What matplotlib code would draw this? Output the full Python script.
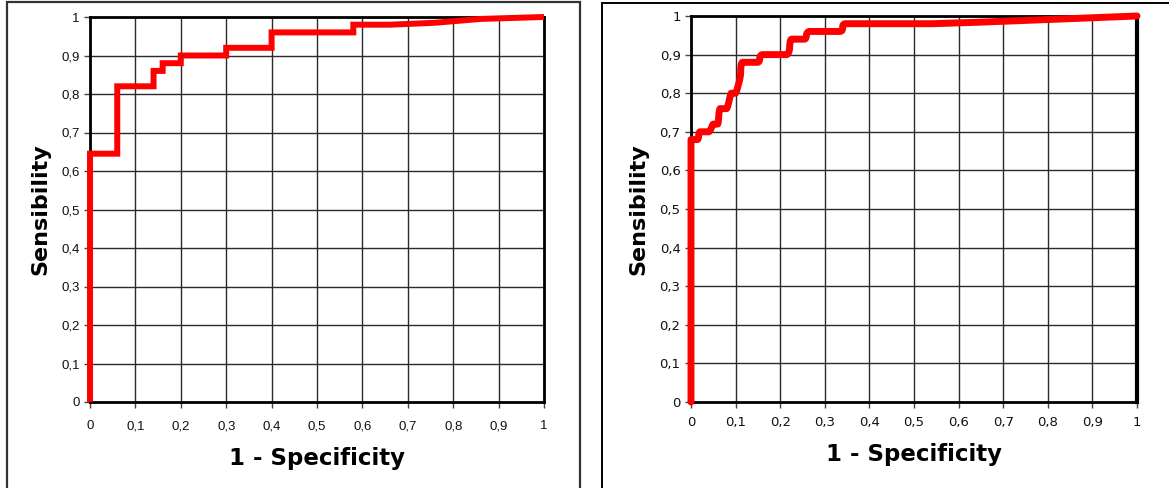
import numpy as np
import matplotlib
matplotlib.use("Agg")
import matplotlib.pyplot as plt
from matplotlib.path import Path
from matplotlib.patches import PathPatch, Rectangle
from matplotlib.ticker import FuncFormatter

# left ROC curve (step curve)
left_fpr = [0, 0, 0.06, 0.06, 0.14, 0.14, 0.16, 0.16, 0.20, 0.20, 0.30, 0.30,
            0.40, 0.40, 0.58, 0.58, 0.66, 0.76, 0.86, 1.0]
left_tpr = [0, 0.645, 0.645, 0.82, 0.82, 0.86, 0.86, 0.88, 0.88, 0.90, 0.90, 0.92,
            0.92, 0.96, 0.96, 0.98, 0.98, 0.985, 0.995, 1.0]

# right ROC curve (smoothed line in the original)
right_fpr = [0, 0, 0.015, 0.02, 0.04, 0.05, 0.06, 0.065, 0.08, 0.09, 0.10, 0.11,
             0.115, 0.15, 0.16, 0.215, 0.225, 0.255, 0.265, 0.335, 0.345, 0.54, 1.0]
right_tpr = [0, 0.68, 0.68, 0.70, 0.70, 0.72, 0.72, 0.76, 0.76, 0.80, 0.80, 0.84,
             0.88, 0.88, 0.90, 0.90, 0.94, 0.94, 0.96, 0.96, 0.98, 0.98, 1.0]

ticks = [0, 0.1, 0.2, 0.3, 0.4, 0.5, 0.6, 0.7, 0.8, 0.9, 1.0]


def comma_fmt(v, pos):
    if abs(v) < 1e-9:
        return "0"
    if abs(v - 1) < 1e-9:
        return "1"
    return f"{v:.1f}".replace(".", ",")


def smooth_path(xs, ys):
    # catmull-rom through the points, control points kept inside each segment's box
    pts = np.column_stack([xs, ys]).astype(float)
    verts = [pts[0]]
    codes = [Path.MOVETO]
    n = len(pts)
    for i in range(n - 1):
        p0 = pts[i - 1] if i > 0 else pts[i]
        p1 = pts[i]
        p2 = pts[i + 1]
        p3 = pts[i + 2] if i + 2 < n else pts[i + 1]
        lo = np.minimum(p1, p2)
        hi = np.maximum(p1, p2)
        c1 = np.clip(p1 + (p2 - p0) / 6.0, lo, hi)
        c2 = np.clip(p2 - (p3 - p1) / 6.0, lo, hi)
        verts += [c1, c2, p2]
        codes += [Path.CURVE4] * 3
    return Path(verts, codes)


def style_axes(ax, tick_font, spine_w_right, xpad, xlabpad):
    ax.set_xlim(0, 1)
    ax.set_ylim(0, 1)
    ax.set_xticks(ticks)
    ax.set_yticks(ticks)
    ax.xaxis.set_major_formatter(FuncFormatter(comma_fmt))
    ax.yaxis.set_major_formatter(FuncFormatter(comma_fmt))
    ax.grid(True, color="#2a2a2a", linewidth=1.0)
    ax.set_axisbelow(True)
    for s in ax.spines.values():
        s.set_color("black")
        s.set_linewidth(2.0)
    ax.spines["right"].set_linewidth(spine_w_right)
    ax.tick_params(axis="both", direction="out", length=4, width=1, color="#444444",
                   labelsize=9.5, colors="#111111")
    ax.tick_params(axis="x", pad=xpad)
    for lab in ax.get_xticklabels() + ax.get_yticklabels():
        lab.set_fontfamily(tick_font)
    ax.set_xlabel("1 - Specificity", fontsize=16.5, fontweight="bold",
                  family="DejaVu Sans", labelpad=xlabpad)
    ax.set_ylabel("Sensibility", fontsize=16, fontweight="bold",
                  family="DejaVu Sans", labelpad=8)


fig = plt.figure(figsize=(11.69, 4.88), dpi=100)
fig.patch.set_facecolor("white")

# outer frames around each chart
fig.add_artist(Rectangle((7 / 1169, -0.05), (580 - 7) / 1169, 1.05 - 2 / 488,
                         transform=fig.transFigure, fill=False,
                         edgecolor="#333333", linewidth=1.6))
fig.add_artist(Rectangle((602 / 1169, -0.05), 0.6, 1.05 - 3 / 488,
                         transform=fig.transFigure, fill=False,
                         edgecolor="black", linewidth=1.4))

ax1 = fig.add_axes([90 / 1169, 1 - 402 / 488, 454 / 1169, 385 / 488])
ax2 = fig.add_axes([691 / 1169, 1 - 402 / 488, 446 / 1169, 386 / 488])

ax1.plot(left_fpr, left_tpr, color="#ff0000", linewidth=4.3,
         solid_joinstyle="miter", solid_capstyle="butt", clip_on=False, zorder=5)

ax2.add_patch(PathPatch(smooth_path(right_fpr, right_tpr), facecolor="none",
                        edgecolor="#ff0000", linewidth=5.0, capstyle="round",
                        joinstyle="round", clip_on=False, zorder=5))

style_axes(ax1, "Liberation Sans", 2.0, 9, 11)
style_axes(ax2, "DejaVu Sans", 3.0, 6, 10)

fig.savefig("out.png", dpi=100, facecolor="white")
